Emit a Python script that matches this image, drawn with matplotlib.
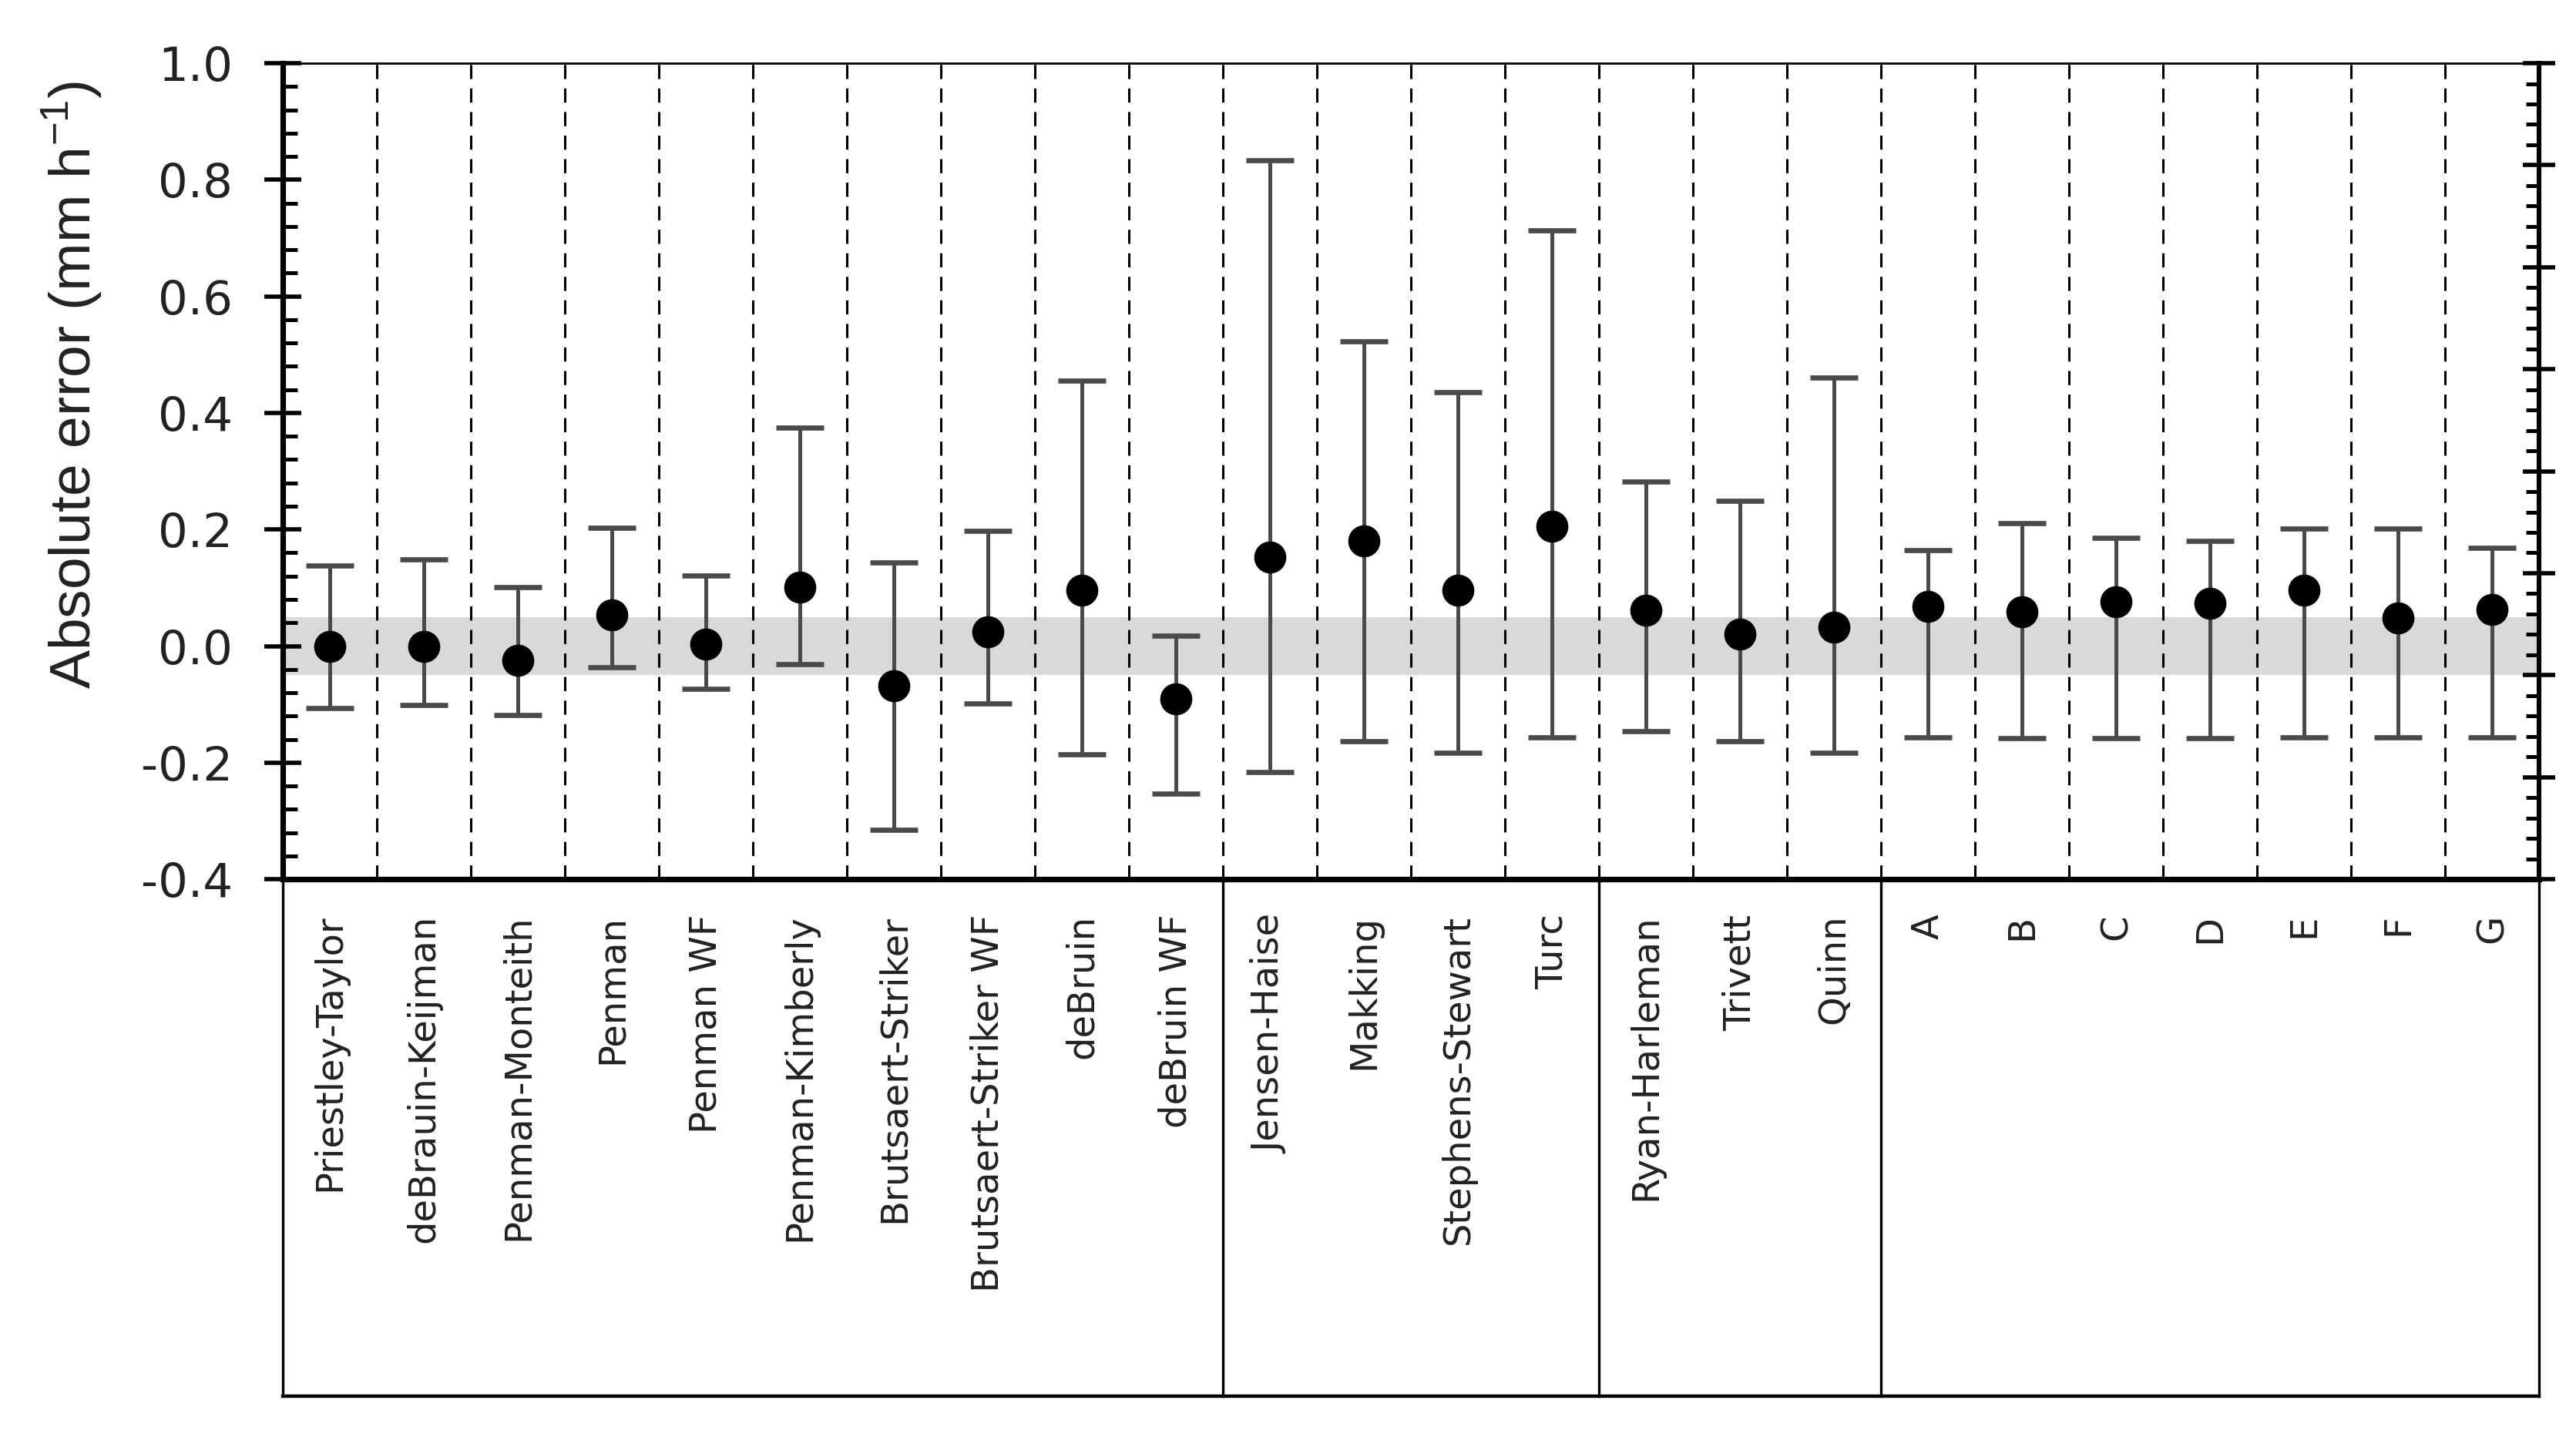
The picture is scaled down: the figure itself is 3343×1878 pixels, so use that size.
import numpy as np
import matplotlib
matplotlib.use("Agg")
import matplotlib.pyplot as plt
from matplotlib.ticker import MultipleLocator, FormatStrFormatter
import matplotlib.transforms as mtrans

## data
methods = ["Priestley-Taylor", "deBrauin-Keijman", "Penman-Monteith", "Penman",
           "Penman WF", "Penman-Kimberly", "Brutsaert-Striker", "Brutsaert-Striker WF",
           "deBruin", "deBruin WF", "Jensen-Haise", "Makking", "Stephens-Stewart",
           "Turc", "Ryan-Harleman", "Trivett", "Quinn",
           "A", "B", "C", "D", "E", "F", "G"]
mean_err = [0.000, 0.000, -0.025, 0.054, 0.003, 0.101, -0.068, 0.025, 0.096, -0.091,
            0.153, 0.180, 0.096, 0.205, 0.062, 0.020, 0.032,
            0.068, 0.059, 0.076, 0.073, 0.096, 0.048, 0.063]
upper_err = [0.138, 0.149, 0.101, 0.203, 0.121, 0.375, 0.144, 0.197, 0.456, 0.018,
             0.834, 0.523, 0.435, 0.713, 0.282, 0.249, 0.461,
             0.164, 0.211, 0.186, 0.180, 0.202, 0.202, 0.169]
lower_err = [-0.107, -0.101, -0.118, -0.037, -0.073, -0.031, -0.315, -0.099, -0.186, -0.253,
             -0.216, -0.163, -0.183, -0.157, -0.146, -0.163, -0.183,
             -0.157, -0.158, -0.158, -0.158, -0.157, -0.157, -0.157]
# group boundaries (number of methods before each solid separator)
group_breaks = [10, 14, 17]

mean_err = np.array(mean_err)
upper_err = np.array(upper_err)
lower_err = np.array(lower_err)
x = np.arange(len(methods)) + 0.5

fig = plt.figure(figsize=(3343/200, 1878/200), dpi=200)
ax = fig.add_axes([0.1098, 0.3924, 0.9856-0.1098, 0.9563-0.3924])

## shaded band around zero
ax.axhspan(-0.05, 0.05, color="#d9d9d9", lw=0, zorder=0)

## dashed separators
for k in range(1, len(methods)):
    ax.axvline(k, color="k", lw=1.1, ls=(0, (6, 4)), zorder=1)

## error bars
eb = ax.errorbar(x, mean_err, yerr=[mean_err - lower_err, upper_err - mean_err],
                 fmt="o", ms=14, mfc="k", mec="k", ecolor="#4a4a4a",
                 elinewidth=1.8, capsize=11, capthick=2.4, zorder=3)
for cl in eb[1]:
    cl.set_color("k")

ax.set_xlim(0, len(methods))
ax.set_ylim(-0.4, 1.0)
ax.yaxis.set_major_locator(MultipleLocator(0.2))
ax.yaxis.set_minor_locator(MultipleLocator(0.04))
ax.yaxis.set_major_formatter(FormatStrFormatter("%.1f"))
ax.tick_params(axis="y", which="major", direction="inout", length=17, width=2.0,
               labelsize=22, pad=15, labelcolor="#222222")
ax.tick_params(axis="y", which="minor", direction="in", length=7, width=1.8)
ax.set_xticks([])
ax.spines["left"].set_linewidth(2.6)
ax.spines["bottom"].set_linewidth(2.6)
ax.spines["top"].set_linewidth(1.0)
ax.spines["right"].set_linewidth(2.2)

ax.set_ylabel("Absolute error (mm h$^{\\mathregular{-1}}$)", fontsize=27,
              family=["Liberation Sans", "DejaVu Sans"], color="#222222")
ax.yaxis.set_label_coords(-0.079, 0.606)

## right-hand secondary ticks
ax2 = ax.twinx()
ax2.set_ylim(0, 8)
ax2.yaxis.set_major_locator(MultipleLocator(1))
ax2.yaxis.set_minor_locator(MultipleLocator(0.2))
ax2.tick_params(axis="y", which="major", direction="inout", length=15, width=2.0,
                labelright=False)
ax2.tick_params(axis="y", which="minor", direction="in", length=6, width=1.8)
for s in ax2.spines.values():
    s.set_visible(False)

## category labels and box below axis
trans = mtrans.blended_transform_factory(ax.transData, ax.transAxes)
box_bottom = -0.6336
for xi, name in zip(x, methods):
    ax.text(xi, -0.043, name, rotation=90, ha="center", va="top", fontsize=17.3,
            color="#222222", transform=trans)
for k in [0] + group_breaks + [len(methods)]:
    ax.plot([k, k], [0, box_bottom], color="k", lw=1.2, transform=trans, clip_on=False)
ax.plot([0, len(methods)], [box_bottom, box_bottom], color="k", lw=1.6,
        transform=trans, clip_on=False)

fig.savefig("out.png", dpi=200)
